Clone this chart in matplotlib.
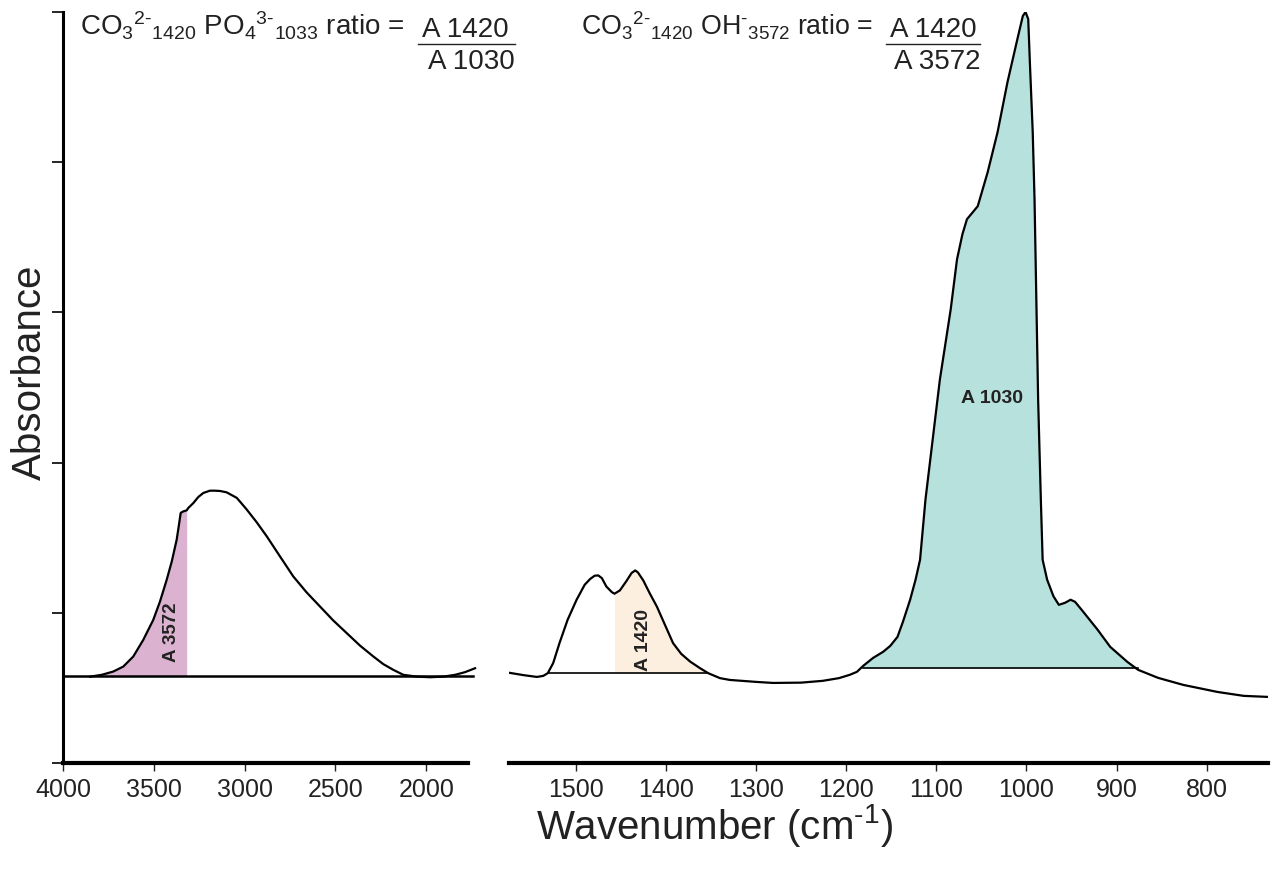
import matplotlib
matplotlib.use('Agg')
import matplotlib.pyplot as plt
from matplotlib.lines import Line2D
import numpy as np

plt.rcParams['font.family'] = ['Liberation Sans', 'DejaVu Sans']
plt.rcParams['mathtext.fontset'] = 'custom'
plt.rcParams['mathtext.rm'] = 'Liberation Sans'
plt.rcParams['mathtext.it'] = 'Liberation Sans:italic'
plt.rcParams['mathtext.bf'] = 'Liberation Sans:bold'
plt.rcParams['mathtext.default'] = 'regular'

# high wavenumber region (OH / water band)
wn_left = [3851, 3787, 3723, 3668, 3613, 3558, 3503, 3466, 3429, 3401, 3374, 3360,
           3352, 3338, 3319, 3310, 3282, 3255, 3227, 3191, 3163, 3135, 3099, 3043,
           2988, 2933, 2878, 2805, 2732, 2658, 2585, 2512, 2438, 2365, 2291, 2236,
           2181, 2126, 2052, 1979, 1906, 1841, 1786, 1731]
abs_left = [0.575, 0.587, 0.609, 0.642, 0.709, 0.82, 0.953, 1.075, 1.22, 1.342, 1.487, 1.598,
            1.665, 1.675, 1.682, 1.698, 1.731, 1.771, 1.798, 1.813, 1.813, 1.811, 1.802, 1.765,
            1.687, 1.602, 1.509, 1.375, 1.242, 1.135, 1.042, 0.949, 0.865, 0.782, 0.709, 0.658,
            0.62, 0.587, 0.575, 0.571, 0.575, 0.587, 0.605, 0.631]

# fingerprint region (carbonate + phosphate)
wn_right = [1573, 1558, 1543, 1536, 1531, 1525, 1518, 1509, 1499, 1490, 1484, 1479,
            1475, 1471, 1466, 1460, 1457, 1451, 1444, 1438, 1434, 1431, 1425, 1418,
            1410, 1401, 1392, 1383, 1373, 1362, 1353, 1340, 1329, 1300, 1281, 1250,
            1226, 1208, 1196, 1188, 1181, 1170, 1159, 1151, 1143, 1137, 1129, 1123,
            1118, 1112, 1104, 1096, 1084, 1077, 1071, 1066, 1054, 1043, 1032, 1021,
            1010, 1004, 1001, 998, 996, 993, 991, 989, 987, 984, 982, 977, 970, 964,
            957, 951, 946, 937, 921, 907, 888, 876, 854, 826, 788, 759, 732]
abs_right = [0.60, 0.585, 0.573, 0.58, 0.598, 0.665, 0.798, 0.953, 1.087, 1.187, 1.225, 1.247,
             1.249, 1.231, 1.175, 1.138, 1.127, 1.149, 1.209, 1.265, 1.282, 1.269, 1.215, 1.131,
             1.042, 0.92, 0.798, 0.727, 0.675, 0.631, 0.598, 0.565, 0.553, 0.54, 0.533, 0.535,
             0.547, 0.565, 0.587, 0.607, 0.647, 0.70, 0.74, 0.78, 0.84, 0.94, 1.087, 1.22,
             1.353, 1.753, 2.153, 2.553, 3.02, 3.353, 3.52, 3.62, 3.707, 3.933, 4.2, 4.533,
             4.82, 4.973, 5.0, 4.953, 4.64, 4.2, 3.753, 3.087, 2.42, 1.753, 1.353, 1.22, 1.11, 1.053,
             1.067, 1.087, 1.073, 1.007, 0.887, 0.773, 0.673, 0.62, 0.567, 0.52, 0.473, 0.447, 0.44]

# integration ranges and baselines
band_3572 = (3851, 3319, 0.58)
band_1420 = (1457, 1353, 0.60)
band_1030 = (1181, 876, 0.633)
baseline_1420_line = (1531, 1353, 0.60)

wn_left = np.array(wn_left)
abs_left = np.array(abs_left)
wn_right = np.array(wn_right)
abs_right = np.array(abs_right)

fig = plt.figure(figsize=(12.74, 8.72), dpi=100)
W, H = 1274, 872
ax1 = fig.add_axes([63 / W, 1 - 763 / H, (468 - 63) / W, (763 - 12) / H])
ax2 = fig.add_axes([509 / W, 1 - 763 / H, (1268 - 509) / W, (763 - 12) / H])

lw = 1.6
txt = '#222222'

# left panel
m = (wn_left <= band_3572[0]) & (wn_left >= band_3572[1])
ax1.fill_between(wn_left[m], abs_left[m], band_3572[2], color='#dbb3d1', lw=0)
ax1.plot([4000, 1740], [band_3572[2]] * 2, color='black', lw=1.8, clip_on=False)
ax1.plot(wn_left, abs_left, color='black', lw=lw, clip_on=False)
ax1.text(3400, 0.87, 'A 3572', rotation=90, ha='center', va='center',
         fontsize=13.5, fontweight='bold', color=txt)

# right panel
m = (wn_right <= band_1420[0]) & (wn_right >= band_1420[1])
ax2.fill_between(wn_right[m], abs_right[m], band_1420[2], color='#fcefdf', lw=0)
m = (wn_right <= band_1030[0]) & (wn_right >= band_1030[1])
ax2.fill_between(wn_right[m], abs_right[m], band_1030[2], color='#b6e1dd', lw=0)
ax2.plot(baseline_1420_line[:2], [baseline_1420_line[2]] * 2, color='black', lw=1.2)
ax2.plot(band_1030[:2], [band_1030[2]] * 2, color='black', lw=1.2)
ax2.plot(wn_right, abs_right, color='black', lw=lw)
ax2.text(1425, 0.82, 'A 1420', rotation=90, ha='center', va='center',
         fontsize=14, fontweight='bold', color=txt)
ax2.text(1038, 2.43, 'A 1030', ha='center', va='center',
         fontsize=14, fontweight='bold', color=txt)

ax1.set_xlim(4000, 1770)
ax2.set_xlim(1574, 732)
for ax in (ax1, ax2):
    ax.set_ylim(0, 5)
    ax.spines['top'].set_visible(False)
    ax.spines['right'].set_visible(False)
    ax.spines['bottom'].set_linewidth(3)
    ax.tick_params(axis='x', direction='out', length=6, width=1, pad=5,
                   labelsize=18, colors=txt)
    ax.patch.set_alpha(0)

ax1.set_xticks([4000, 3500, 3000, 2500, 2000])
ax2.set_xticks([1500, 1400, 1300, 1200, 1100, 1000, 900, 800])
ax1.set_yticks([0, 1, 2, 3, 4, 5])
ax1.set_yticklabels([])
ax1.spines['left'].set_linewidth(2.2)
ax1.tick_params(axis='y', direction='out', length=8, width=1.2)
ax2.spines['left'].set_visible(False)
ax2.set_yticks([])

fig.text(30 / W, 1 - 372 / H, 'Absorbance', rotation=90, ha='center', va='center',
         fontsize=29, color=txt)
fig.text(715 / W, 1 - 825 / H, r'Wavenumber (cm$^{\text{-}1}$)', ha='center', va='center',
         fontsize=29, color=txt)

# ratio formulas
fs = 20
fig.text(80 / W, 1 - 36 / H,
         r'CO$_3$$^{2\text{-}}$$_{1420}$ PO$_4$$^{3\text{-}}$$_{1033}$ ratio = ',
         fontsize=fs, ha='left', va='baseline', color=txt)
fig.text(422 / W, 1 - 37 / H, 'A 1420', fontsize=fs, ha='left', va='baseline', color=txt)
fig.text(515 / W, 1 - 69 / H, 'A 1030', fontsize=fs, ha='right', va='baseline', color=txt)
fig.add_artist(Line2D([418 / W, 515 / W], [1 - 44 / H, 1 - 44 / H], color=txt, lw=1))

fig.text(581 / W, 1 - 36 / H, r'CO$_3$$^{2\text{-}}$$_{1420}$ OH$^{\text{-}}$$_{3572}$ ratio = ',
         fontsize=19.3, ha='left', va='baseline', color=txt)
fig.text(890 / W, 1 - 37 / H, 'A 1420', fontsize=fs, ha='left', va='baseline', color=txt)
fig.text(980 / W, 1 - 69 / H, 'A 3572', fontsize=fs, ha='right', va='baseline', color=txt)
fig.add_artist(Line2D([886 / W, 980 / W], [1 - 44 / H, 1 - 44 / H], color=txt, lw=1))

plt.savefig('out.png', dpi=100)
